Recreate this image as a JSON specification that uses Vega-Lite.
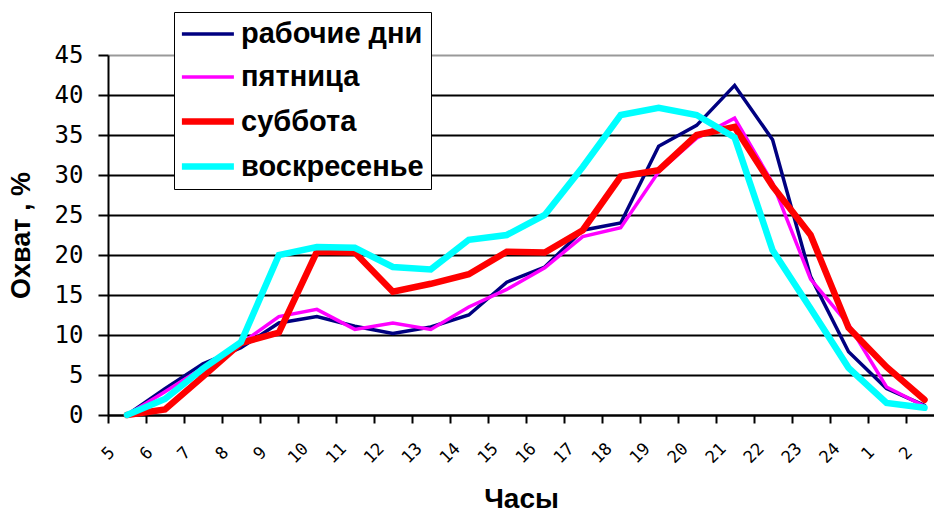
{
  "$schema": "https://vega.github.io/schema/vega-lite/v6.json",
  "autosize": "none",
  "width": 826,
  "height": 360,
  "padding": {"left": 108, "top": 55, "right": 0, "bottom": 98},
  "background": "white",
  "config": {"view": {"stroke": null}},
  "data": {"values": [
    {"s": "рабочие дни", "h": 5.5, "v": 0},
    {"s": "рабочие дни", "h": 6.5, "v": 3.3},
    {"s": "рабочие дни", "h": 7.5, "v": 6.4},
    {"s": "рабочие дни", "h": 8.5, "v": 8.4},
    {"s": "рабочие дни", "h": 9.5, "v": 11.5},
    {"s": "рабочие дни", "h": 10.5, "v": 12.3},
    {"s": "рабочие дни", "h": 11.5, "v": 11.1},
    {"s": "рабочие дни", "h": 12.5, "v": 10.2},
    {"s": "рабочие дни", "h": 13.5, "v": 11},
    {"s": "рабочие дни", "h": 14.5, "v": 12.5},
    {"s": "рабочие дни", "h": 15.5, "v": 16.6},
    {"s": "рабочие дни", "h": 16.5, "v": 18.5},
    {"s": "рабочие дни", "h": 17.5, "v": 23.1},
    {"s": "рабочие дни", "h": 18.5, "v": 24},
    {"s": "рабочие дни", "h": 19.5, "v": 33.6},
    {"s": "рабочие дни", "h": 20.5, "v": 36.2},
    {"s": "рабочие дни", "h": 21.5, "v": 41.2},
    {"s": "рабочие дни", "h": 22.5, "v": 34.4},
    {"s": "рабочие дни", "h": 23.5, "v": 17.3},
    {"s": "рабочие дни", "h": 24.5, "v": 7.9},
    {"s": "рабочие дни", "h": 25.5, "v": 3.3},
    {"s": "рабочие дни", "h": 26.5, "v": 1.2},
    {"s": "пятница", "h": 5.5, "v": 0},
    {"s": "пятница", "h": 6.5, "v": 2.9},
    {"s": "пятница", "h": 7.5, "v": 5.9},
    {"s": "пятница", "h": 8.5, "v": 8.9},
    {"s": "пятница", "h": 9.5, "v": 12.3},
    {"s": "пятница", "h": 10.5, "v": 13.2},
    {"s": "пятница", "h": 11.5, "v": 10.7},
    {"s": "пятница", "h": 12.5, "v": 11.5},
    {"s": "пятница", "h": 13.5, "v": 10.7},
    {"s": "пятница", "h": 14.5, "v": 13.5},
    {"s": "пятница", "h": 15.5, "v": 15.7},
    {"s": "пятница", "h": 16.5, "v": 18.4},
    {"s": "пятница", "h": 17.5, "v": 22.3},
    {"s": "пятница", "h": 18.5, "v": 23.4},
    {"s": "пятница", "h": 19.5, "v": 30.4},
    {"s": "пятница", "h": 20.5, "v": 34.6},
    {"s": "пятница", "h": 21.5, "v": 37.1},
    {"s": "пятница", "h": 22.5, "v": 29},
    {"s": "пятница", "h": 23.5, "v": 17},
    {"s": "пятница", "h": 24.5, "v": 11.3},
    {"s": "пятница", "h": 25.5, "v": 3.5},
    {"s": "пятница", "h": 26.5, "v": 1.1},
    {"s": "суббота", "h": 5.5, "v": 0},
    {"s": "суббота", "h": 6.5, "v": 0.7},
    {"s": "суббота", "h": 7.5, "v": 4.8},
    {"s": "суббота", "h": 8.5, "v": 9},
    {"s": "суббота", "h": 9.5, "v": 10.3},
    {"s": "суббота", "h": 10.5, "v": 20.4},
    {"s": "суббота", "h": 11.5, "v": 20.3},
    {"s": "суббота", "h": 12.5, "v": 15.4},
    {"s": "суббота", "h": 13.5, "v": 16.4},
    {"s": "суббота", "h": 14.5, "v": 17.6},
    {"s": "суббота", "h": 15.5, "v": 20.4},
    {"s": "суббота", "h": 16.5, "v": 20.3},
    {"s": "суббота", "h": 17.5, "v": 23.1},
    {"s": "суббота", "h": 18.5, "v": 29.8},
    {"s": "суббота", "h": 19.5, "v": 30.6},
    {"s": "суббота", "h": 20.5, "v": 35},
    {"s": "суббота", "h": 21.5, "v": 36},
    {"s": "суббота", "h": 22.5, "v": 28.6},
    {"s": "суббота", "h": 23.5, "v": 22.5},
    {"s": "суббота", "h": 24.5, "v": 10.9},
    {"s": "суббота", "h": 25.5, "v": 6},
    {"s": "суббота", "h": 26.5, "v": 1.9},
    {"s": "воскресенье", "h": 5.5, "v": 0},
    {"s": "воскресенье", "h": 6.5, "v": 2},
    {"s": "воскресенье", "h": 7.5, "v": 5.8},
    {"s": "воскресенье", "h": 8.5, "v": 9.1},
    {"s": "воскресенье", "h": 9.5, "v": 20},
    {"s": "воскресенье", "h": 10.5, "v": 21},
    {"s": "воскресенье", "h": 11.5, "v": 20.9},
    {"s": "воскресенье", "h": 12.5, "v": 18.5},
    {"s": "воскресенье", "h": 13.5, "v": 18.2},
    {"s": "воскресенье", "h": 14.5, "v": 21.9},
    {"s": "воскресенье", "h": 15.5, "v": 22.5},
    {"s": "воскресенье", "h": 16.5, "v": 25},
    {"s": "воскресенье", "h": 17.5, "v": 31},
    {"s": "воскресенье", "h": 18.5, "v": 37.5},
    {"s": "воскресенье", "h": 19.5, "v": 38.4},
    {"s": "воскресенье", "h": 20.5, "v": 37.5},
    {"s": "воскресенье", "h": 21.5, "v": 34.7},
    {"s": "воскресенье", "h": 22.5, "v": 20.6},
    {"s": "воскресенье", "h": 23.5, "v": 13.3},
    {"s": "воскресенье", "h": 24.5, "v": 5.9},
    {"s": "воскресенье", "h": 25.5, "v": 1.5},
    {"s": "воскресенье", "h": 26.5, "v": 0.9}
  ]},
  "mark": {"type": "line", "strokeCap": "round", "clip": false},
  "encoding": {
    "x": {
      "field": "h", "type": "quantitative",
      "scale": {"domain": [5, 26.75], "nice": false, "zero": false},
      "axis": {
        "values": [5,6,7,8,9,10,11,12,13,14,15,16,17,18,19,20,21,22,23,24,25,26],
        "labelExpr": "datum.value > 24 ? datum.value - 24 : datum.value",
        "grid": false,
        "domainColor": "black", "domainWidth": 2,
        "tickColor": "black", "tickWidth": 2, "tickSize": 8,
        "labelAngle": -45, "labelAlign": "center", "labelBaseline": "middle",
        "labelPadding": 30,
        "labelFont": "DejaVu Sans Mono", "labelFontSize": 17, "labelColor": "black",
        "labelOverlap": false, "labelBound": false, "labelFlush": false,
        "title": "Часы",
        "titleFont": "Liberation Sans", "titleFontSize": 28, "titleFontWeight": "bold",
        "titleColor": "black", "titlePadding": 20
      }
    },
    "y": {
      "field": "v", "type": "quantitative",
      "scale": {"domain": [0, 45], "nice": false},
      "axis": {
        "values": [0,5,10,15,20,25,30,35,40,45],
        "grid": true,
        "gridColor": {"condition": {"test": "datum.value == 45", "value": "#999999"}, "value": "black"},
        "gridWidth": 2,
        "domainColor": "black", "domainWidth": 2,
        "tickColor": "black", "tickWidth": 2, "tickSize": 10,
        "labelFont": "DejaVu Sans Mono", "labelFontSize": 24, "labelColor": "black",
        "labelPadding": 15,
        "title": "Охват , %",
        "titleFont": "Liberation Sans", "titleFontSize": 27, "titleFontWeight": "bold",
        "titleColor": "black", "titlePadding": 19
      }
    },
    "color": {
      "field": "s", "type": "nominal",
      "sort": ["рабочие дни", "пятница", "суббота", "воскресенье"],
      "scale": {"domain": ["рабочие дни", "пятница", "суббота", "воскресенье"],
                "range": ["#000080", "#FF00FF", "#FF0000", "#00FFFF"]},
      "legend": {
        "title": null,
        "orient": "none", "legendX": 66, "legendY": -43,
        "symbolType": "M-1.2,0H2.8", "symbolSize": 676,
        "labelFont": "Liberation Sans", "labelFontSize": 29, "labelFontWeight": "bold",
        "labelColor": "black", "labelOffset": 27, "labelLimit": 0,
        "rowPadding": 13,
        "strokeColor": "black", "fillColor": "white", "padding": 7
      }
    },
    "strokeWidth": {
      "field": "s", "type": "nominal",
      "sort": ["рабочие дни", "пятница", "суббота", "воскресенье"],
      "scale": {"type": "ordinal", "domain": ["рабочие дни", "пятница", "суббота", "воскресенье"],
                "range": [3.5, 3.5, 6.5, 6.5]},
      "legend": {
        "title": null,
        "orient": "none", "legendX": 66, "legendY": -43,
        "symbolType": "M-1.2,0H2.8", "symbolSize": 676,
        "labelFont": "Liberation Sans", "labelFontSize": 29, "labelFontWeight": "bold",
        "labelColor": "black", "labelOffset": 27, "labelLimit": 0,
        "rowPadding": 13,
        "strokeColor": "black", "fillColor": "white", "padding": 7
      }
    }
  }
}
